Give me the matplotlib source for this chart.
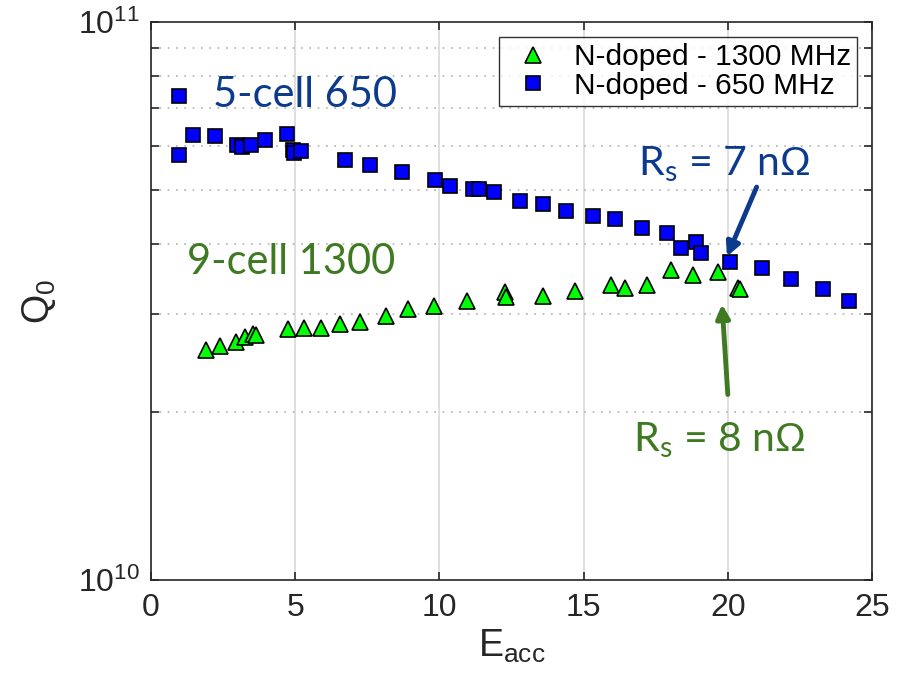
import numpy as np
import matplotlib
matplotlib.use('Agg')
import matplotlib.pyplot as plt
from matplotlib.ticker import FixedLocator, LogLocator, NullFormatter

plt.rcParams['font.family'] = ['Liberation Sans', 'DejaVu Sans']
plt.rcParams['mathtext.fontset'] = 'custom'
plt.rcParams['mathtext.rm'] = 'Liberation Sans'
plt.rcParams['mathtext.it'] = 'Liberation Sans'

# 650 MHz, 5-cell
e650 = [0.97, 0.97, 1.46, 2.22, 2.98, 3.16, 3.47, 3.95, 4.72, 4.92, 4.96, 5.20,
        6.73, 7.59, 8.70, 9.85, 10.37, 11.16, 11.37, 11.89, 12.79, 13.59, 14.39,
        15.33, 16.09, 17.03, 17.89, 18.38, 18.90, 19.07, 20.08, 21.19, 22.19,
        23.30, 24.20]
q650 = [7.37, 5.78, 6.27, 6.25, 6.02, 5.97, 6.02, 6.15, 6.30, 5.90, 5.82, 5.87,
        5.66, 5.54, 5.39, 5.21, 5.08, 5.02, 5.02, 4.96, 4.78, 4.72, 4.59,
        4.49, 4.43, 4.27, 4.19, 3.94, 4.03, 3.86, 3.71, 3.62, 3.46,
        3.32, 3.16]

# 1300 MHz, 9-cell
e1300 = [1.91, 2.39, 2.95, 3.26, 3.54, 3.64, 4.75, 5.31, 5.89, 6.55, 7.25, 8.15,
         8.91, 9.81, 10.96, 12.27, 12.31, 13.59, 14.70, 15.95, 16.44, 17.20,
         18.03, 18.79, 19.66, 20.35, 20.42]
q1300 = [2.58, 2.63, 2.67, 2.73, 2.76, 2.75, 2.82, 2.83, 2.83, 2.88, 2.90, 2.97,
         3.06, 3.10, 3.16, 3.28, 3.21, 3.23, 3.30, 3.38, 3.34, 3.38,
         3.59, 3.52, 3.56, 3.34, 3.32]

q650 = np.array(q650) * 1e10
q1300 = np.array(q1300) * 1e10

blue_txt = '#0c3b8e'
green_txt = '#3f7a22'

fig = plt.figure(figsize=(9.03, 6.79), dpi=100)
ax = fig.add_axes([151/903, 99/679, 721/903, 558/679])

ax.semilogy(e1300, q1300, '^', color='#00ff00', mec='black', mew=1.2, ms=12,
            label='N-doped - 1300 MHz', zorder=3)
ax.semilogy(e650, q650, 's', color='#0000ff', mec='black', mew=1.2, ms=9.5,
            label='N-doped - 650 MHz', zorder=3)

ax.set_xlim(0, 25)
ax.set_ylim(1e10, 1e11)
ax.set_xticks([0, 5, 10, 15, 20, 25])
ax.yaxis.set_major_locator(FixedLocator([1e10, 1e11]))
ax.yaxis.set_minor_locator(LogLocator(base=10, subs=np.arange(2, 10)))
ax.yaxis.set_minor_formatter(NullFormatter())
ax.set_yticklabels([r'$\mathregular{10^{10}}$', r'$\mathregular{10^{11}}$'])

ax.tick_params(which='both', direction='in', top=True, right=True,
               labelsize=23, colors='#262626', width=1.2)
ax.tick_params(which='major', length=6)
ax.tick_params(which='minor', length=6)
ax.tick_params(axis='y', pad=8)
ax.tick_params(axis='x', pad=9)
for s in ax.spines.values():
    s.set_linewidth(1.2)
    s.set_color('#262626')

ax.grid(True, axis='x', which='major', color='#d9d9d9', linewidth=1.2, linestyle='-')
ax.grid(True, axis='y', which='minor', color='#b0b0b0', linewidth=1.2, linestyle=(0, (1, 4)))

ax.set_xlabel(r'$\mathregular{E_{acc}}$', fontsize=27, color='#262626', labelpad=4)
ax.set_ylabel(r'$\mathregular{Q_{0}}$', fontsize=27, color='#262626', labelpad=14)

leg = ax.legend(loc='upper right', fontsize=21.5, frameon=True, fancybox=False,
                edgecolor='black', borderpad=0.2, handletextpad=0.4,
                labelspacing=0.02, bbox_to_anchor=(0.979, 0.973), handlelength=1.9,
                borderaxespad=0)
leg.get_frame().set_linewidth(1.0)

ann = ['Lato', 'DejaVu Sans']
ax.text(2.15, 7.4e10, '5-cell 650', color=blue_txt, fontsize=30, family=ann,
        va='center', ha='left')
ax.text(1.25, 3.72e10, '9-cell 1300', color=green_txt, fontsize=30, family=ann,
        va='center', ha='left')
ax.text(16.9, 5.55e10, r'R$_\mathregular{s}$ = 7 n$\Omega$', color=blue_txt,
        fontsize=29.5, family=ann, va='center', ha='left')
ax.text(16.7, 1.78e10, r'R$_\mathregular{s}$ = 8 n$\Omega$', color=green_txt,
        fontsize=29.5, family=ann, va='center', ha='left')

ax.annotate('', xy=(19.97, 3.8e10), xytext=(21.0, 5.06e10),
            arrowprops=dict(arrowstyle='-|>,head_length=0.8,head_width=0.4',
                            color=blue_txt, lw=3.5, shrinkA=0, shrinkB=0))
ax.annotate('', xy=(19.8, 3.12e10), xytext=(20.0, 2.15e10),
            arrowprops=dict(arrowstyle='-|>,head_length=0.8,head_width=0.4',
                            color=green_txt, lw=3.5, shrinkA=0, shrinkB=0))

fig.savefig('out.png', dpi=100)
